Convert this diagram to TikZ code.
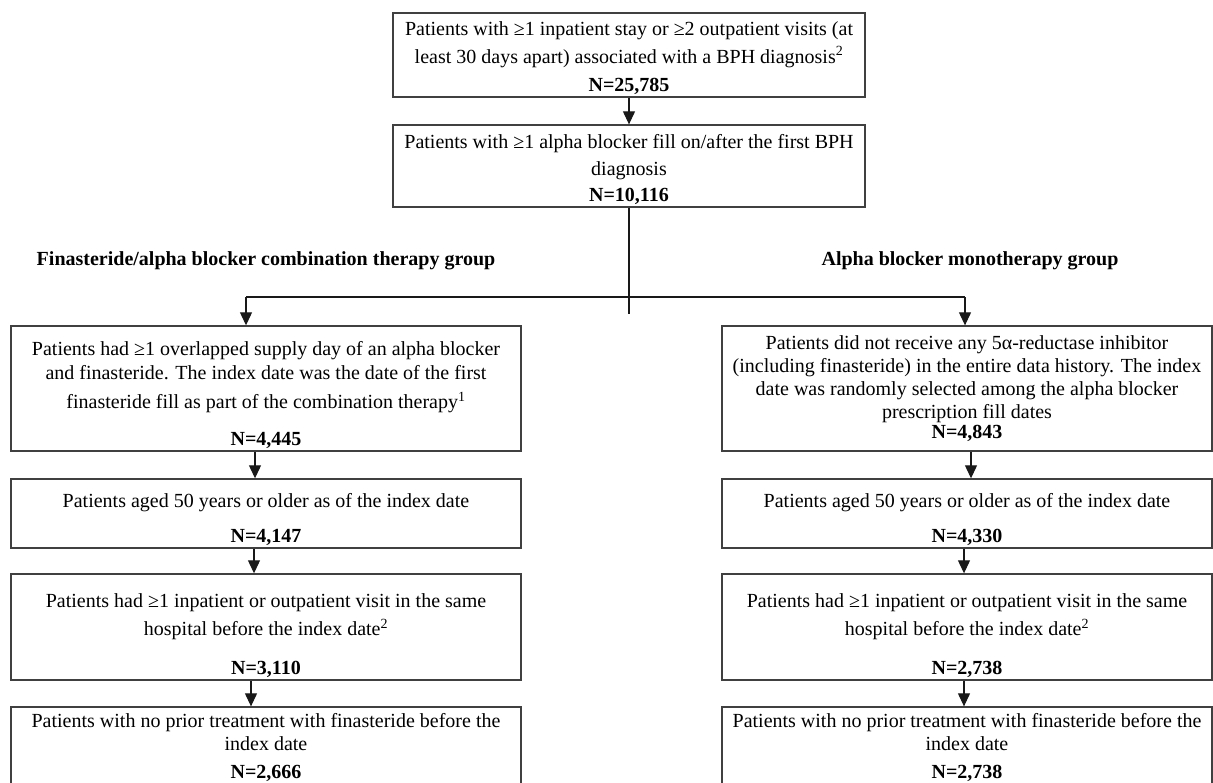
\documentclass[tikz,border=0pt]{standalone}
\usepackage{fontspec}
\setmainfont{Liberation Serif}
\usetikzlibrary{arrows.meta, calc}

\newcommand{\padtop}[1]{\rule{0pt}{#1}}

\tikzset{
  box/.style={draw=black!75, line width=1.3pt, align=center, inner sep=2pt,
    font=\fontsize{20}{24}\selectfont},
  conn/.style={line width=1.1pt, black!90},
  arr/.style={conn, -{Triangle[length=13pt, width=12pt]}},
  grouplabel/.style={font=\fontsize{20}{24}\selectfont\bfseries},
}

\begin{document}
\begin{tikzpicture}[x=1pt, y=-1pt]
        \useasboundingbox (0,0) rectangle (1213,782);

        % Common trunk
        \node[box, minimum width=472pt, minimum height=84pt] (bph) at (629,55)
          {\padtop{20pt}Patients with ≥1 inpatient stay or ≥2 outpatient visits (at\\[4pt]
           least 30 days apart) associated with a BPH diagnosis\textsuperscript{2}\\[4pt]
           \textbf{N=25,785}};
        \node[box, minimum width=472pt, minimum height=82pt] (alpha) at (629,166)
          {\padtop{21pt}Patients with ≥1 alpha blocker fill on/after the first BPH\\[3pt]
           diagnosis\\[2pt]
           \textbf{N=10,116}};

        % Group labels
        \node[grouplabel] (combolabel) at (266,261) {Finasteride/alpha blocker combination therapy group};
        \node[grouplabel] (monolabel) at (970,261) {Alpha blocker monotherapy group};

        % Left column: combination therapy
        \node[box, minimum width=510pt, minimum height=125pt] (L1) at (266,388.5)
          {\padtop{28pt}Patients had ≥1 overlapped supply day of an alpha blocker\\
           and finasteride. The index date was the date of the first\\[5pt]
           finasteride fill as part of the combination therapy\textsuperscript{1}\\[13pt]
           \textbf{N=4,445}};
        \node[box, minimum width=510pt, minimum height=67pt] (L2) at (266,513.5)
          {\padtop{27pt}Patients aged 50 years or older as of the index date\\[11pt]
           \textbf{N=4,147}};
        \node[box, minimum width=510pt, minimum height=102pt] (L3) at (266,627)
          {\padtop{32pt}Patients had ≥1 inpatient or outpatient visit in the same\\[4pt]
           hospital before the index date\textsuperscript{2}\\[15pt]
           \textbf{N=3,110}};
        \node[box, minimum width=510pt, minimum height=81pt] (L4) at (266,747.5)
          {Patients with no prior treatment with finasteride before the\\[-1pt]
           index date\\[4pt]
           \textbf{N=2,666}};

        % Right column: monotherapy
        \node[box, minimum width=490pt, minimum height=125pt] (R1) at (967,388.5)
          {Patients did not receive any 5α-reductase inhibitor\\[-1pt]
           (including finasteride) in the entire data history. The index\\[-1pt]
           date was randomly selected among the alpha blocker\\[-1pt]
           prescription fill dates\\[-4pt]
           \textbf{N=4,843}};
        \node[box, minimum width=490pt, minimum height=67pt] (R2) at (967,513.5)
          {\padtop{27pt}Patients aged 50 years or older as of the index date\\[11pt]
           \textbf{N=4,330}};
        \node[box, minimum width=490pt, minimum height=102pt] (R3) at (967,627)
          {\padtop{32pt}Patients had ≥1 inpatient or outpatient visit in the same\\[4pt]
           hospital before the index date\textsuperscript{2}\\[15pt]
           \textbf{N=2,738}};
        \node[box, minimum width=490pt, minimum height=81pt] (R4) at (967,747.5)
          {Patients with no prior treatment with finasteride before the\\[-1pt]
           index date\\[4pt]
           \textbf{N=2,738}};

        % Split points
        \coordinate (stemend) at (628,314);
        \coordinate (leftend) at (246,297);
        \coordinate (rightend) at (965,297);

        % Connectors
        \draw[arr] (bph) -- (alpha);
        \draw[conn] (alpha.south) -- (alpha.south |- stemend);
        \draw[conn] (leftend) -- (rightend);
        \draw[arr] (leftend) -- (leftend |- L1.north);
        \draw[arr] (rightend) -- (rightend |- R1.north);

        \draw[arr] ([xshift=-11pt]L1.south) -- ([xshift=-11pt]L2.north);
        \draw[arr] ([xshift=-12pt]L2.south) -- ([xshift=-12pt]L3.north);
        \draw[arr] ([xshift=-15pt]L3.south) -- ([xshift=-15pt]L4.north);

        \draw[arr] ([xshift=4pt]R1.south) -- ([xshift=4pt]R2.north);
        \draw[arr] ([xshift=-3pt]R2.south) -- ([xshift=-3pt]R3.north);
        \draw[arr] ([xshift=-3pt]R3.south) -- ([xshift=-3pt]R4.north);
\end{tikzpicture}
\end{document}
